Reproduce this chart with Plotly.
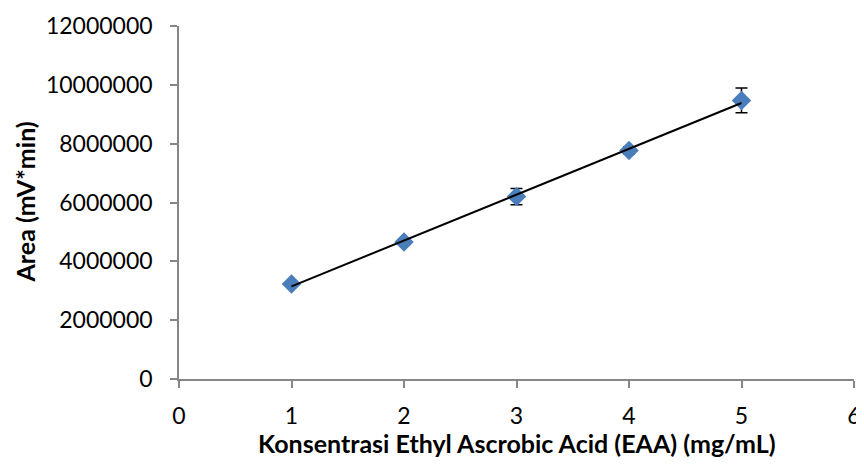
import numpy as np
import plotly.graph_objects as go

konsentrasi = [1, 2, 3, 4, 5]
area = [3230000, 4660000, 6200000, 7770000, 9470000]
sd = [80000, 100000, 280000, 120000, 420000]
x_ticks = [0, 1, 2, 3, 4, 5, 6]
y_ticks = [0, 2000000, 4000000, 6000000, 8000000, 10000000, 12000000]

slope, intercept = np.polyfit(konsentrasi, area, 1)
fit_x = [min(konsentrasi), max(konsentrasi)]
fit_y = [slope * v + intercept for v in fit_x]

fig = go.Figure()
fig.add_trace(go.Scatter(
    x=konsentrasi, y=area, mode="markers",
    marker=dict(symbol="diamond", size=15, color="#4A7EBB"),
    error_y=dict(type="data", array=sd, visible=True, color="black",
                 thickness=1.5, width=6),
    showlegend=False,
))
fig.add_trace(go.Scatter(
    x=fit_x, y=fit_y, mode="lines",
    line=dict(color="black", width=2),
    showlegend=False,
))

axis_common = dict(
    showline=True, linecolor="#868686", linewidth=1.5,
    ticks="outside", tickcolor="#868686", ticklen=7, tickwidth=1.5,
    showgrid=False, zeroline=False, automargin=False,
    tickfont=dict(family="Lato", size=23, color="black"),
)

fig.update_layout(
    width=856, height=456,
    margin=dict(l=171, r=10, t=18, b=85),
    paper_bgcolor="white", plot_bgcolor="white",
    xaxis=dict(range=[0, 6], tickvals=x_ticks, ticktext=[str(v) for v in x_ticks],
               ticklabelstandoff=9, **axis_common),
    yaxis=dict(range=[0, 12000000], tickvals=y_ticks, ticktext=[str(v) for v in y_ticks],
               ticklabelstandoff=13, **axis_common),
    annotations=[
        dict(text="<b>Konsentrasi Ethyl Ascrobic Acid (EAA) (mg/mL)</b>",
             xref="paper", yref="paper", x=0.5, y=-0.181,
             xanchor="center", yanchor="middle", showarrow=False,
             font=dict(family="Lato", size=25, color="black")),
        dict(text="<b>Area (mV*min)</b>",
             xref="paper", yref="paper", x=-0.2296, y=0.5, textangle=-90,
             xanchor="center", yanchor="middle", showarrow=False,
             font=dict(family="Lato", size=25, color="black")),
    ],
)

fig.write_html("out.html")
